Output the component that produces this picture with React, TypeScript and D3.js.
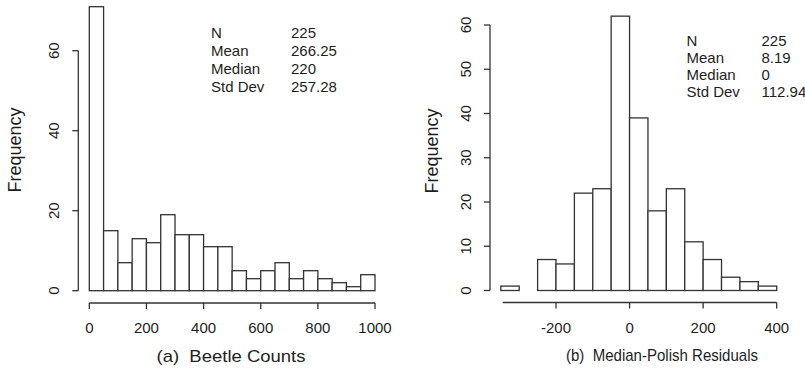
import React from 'react';
import * as d3 from 'd3';

// ---------- Data ----------
const BIN_WIDTH = 50;

const beetleBinStarts = [0, 50, 100, 150, 200, 250, 300, 350, 400, 450, 500, 550, 600, 650, 700, 750, 800, 850, 900, 950];
const beetleCounts = [71, 15, 7, 13, 12, 19, 14, 14, 11, 11, 5, 3, 5, 7, 3, 5, 3, 2, 1, 4];
const beetleXTicks = [0, 200, 400, 600, 800, 1000];
const beetleYTicks = [0, 20, 40, 60];
const beetleStatValues = ['225', '266.25', '220', '257.28'];
const beetleTitle = '(a)  Beetle Counts';

const residBinStarts = [-350, -300, -250, -200, -150, -100, -50, 0, 50, 100, 150, 200, 250, 300, 350];
const residCounts = [1, 0, 7, 6, 22, 23, 62, 39, 18, 23, 11, 7, 3, 2, 1];
const residXTicks = [-200, 0, 200, 400];
const residYTicks = [0, 10, 20, 30, 40, 50, 60];
const residStatValues = ['225', '8.19', '0', '112.94'];
const residTitle = '(b)  Median-Polish Residuals';

const statLabels = ['N', 'Mean', 'Median', 'Std Dev'];

const FONT = "'Liberation Sans', Arial, Helvetica, sans-serif";
const INK = '#1e1e1e';
const STROKE = '#333333';

type PanelProps = {
  binStarts: number[];
  counts: number[];
  xTicks: number[];
  yTicks: number[];
  xDomain: [number, number];
  xRange: [number, number];
  xAxisFrom: number;
  xAxisTo: number;
  yRange: [number, number];
  yAxisX: number;
  xAxisY: number;
  statValues: string[];
  statX: number;
  statValX: number;
  statY: number;
  statStep: number;
  title: string;
  titleX: number;
  titleY: number;
  titleLen: number;
  ylabX: number;
  ylabY: number;
};

function Panel(p: PanelProps) {
  const x = d3.scaleLinear().domain(p.xDomain).range(p.xRange);
  const y = d3.scaleLinear().domain([0, 60]).range(p.yRange);
  const y0 = y(0);
  return (
    <g fontFamily={FONT} fill={INK}>
      {/* bars */}
      {p.binStarts.map((b, i) =>
        p.counts[i] > 0 ? (
          <rect
            key={i}
            x={x(b)}
            y={y(p.counts[i])}
            width={x(b + BIN_WIDTH) - x(b)}
            height={y0 - y(p.counts[i])}
            fill="#fff"
            stroke={STROKE}
            strokeWidth={1.3}
          />
        ) : null
      )}
      {/* y axis */}
      <line x1={p.yAxisX} x2={p.yAxisX} y1={y(p.yTicks[0])} y2={y(p.yTicks[p.yTicks.length - 1])} stroke={STROKE} strokeWidth={1.3} />
      {p.yTicks.map((t) => (
        <g key={t}>
          <line x1={p.yAxisX - 6} x2={p.yAxisX} y1={y(t)} y2={y(t)} stroke={STROKE} strokeWidth={1.3} />
          <text
            transform={`translate(${p.yAxisX - 19},${y(t)}) rotate(-90)`}
            textAnchor="middle"
            fontSize={15}
          >
            {t}
          </text>
        </g>
      ))}
      {/* x axis */}
      <line x1={x(p.xAxisFrom)} x2={x(p.xAxisTo)} y1={p.xAxisY} y2={p.xAxisY} stroke={STROKE} strokeWidth={1.3} />
      {p.xTicks.map((t) => (
        <g key={t}>
          <line x1={x(t)} x2={x(t)} y1={p.xAxisY} y2={p.xAxisY + 6} stroke={STROKE} strokeWidth={1.3} />
          <text x={x(t)} y={p.xAxisY + 30} textAnchor="middle" fontSize={15}>
            {t}
          </text>
        </g>
      ))}
      {/* y label */}
      <text transform={`translate(${p.ylabX},${p.ylabY}) rotate(-90)`} textAnchor="middle" fontSize={18}>
        Frequency
      </text>
      {/* title */}
      <text
        x={p.titleX - p.titleLen / 2}
        y={p.titleY}
        fontSize={17}
        textLength={p.titleLen}
        lengthAdjust="spacingAndGlyphs"
        style={{ whiteSpace: 'pre' }}
      >
        {p.title}
      </text>
      {/* stats */}
      {statLabels.map((s, i) => (
        <g key={s}>
          <text x={p.statX} y={p.statY + i * p.statStep} fontSize={15}>
            {s}
          </text>
          <text x={p.statValX} y={p.statY + i * p.statStep} fontSize={15}>
            {p.statValues[i]}
          </text>
        </g>
      ))}
    </g>
  );
}

export default function App() {
  return (
    <svg
      width={805}
      height={372}
      viewBox="0 0 805 372"
      style={{ position: 'absolute', left: 0, top: 0, background: '#fff' }}
    >
      <rect x={0} y={0} width={805} height={372} fill="#fff" />
      <Panel
        binStarts={beetleBinStarts}
        counts={beetleCounts}
        xTicks={beetleXTicks}
        yTicks={beetleYTicks}
        xDomain={[0, 1000]}
        xRange={[89.3, 375]}
        xAxisFrom={0}
        xAxisTo={1000}
        yRange={[290.7, 50.7]}
        yAxisX={78.3}
        xAxisY={303}
        statValues={beetleStatValues}
        statX={211}
        statValX={291}
        statY={37.5}
        statStep={18}
        title={beetleTitle}
        titleX={231}
        titleY={362}
        titleLen={149}
        ylabX={21}
        ylabY={150}
      />
      <Panel
        binStarts={residBinStarts}
        counts={residCounts}
        xTicks={residXTicks}
        yTicks={residYTicks}
        xDomain={[-200, 400]}
        xRange={[556, 776.7]}
        xAxisFrom={-345}
        xAxisTo={400}
        yRange={[290.5, 25]}
        yAxisX={490}
        xAxisY={302.5}
        statValues={residStatValues}
        statX={686.5}
        statValX={761.5}
        statY={45.7}
        statStep={17}
        title={residTitle}
        titleX={662}
        titleY={361}
        titleLen={192}
        ylabX={438}
        ylabY={151}
      />
    </svg>
  );
}
